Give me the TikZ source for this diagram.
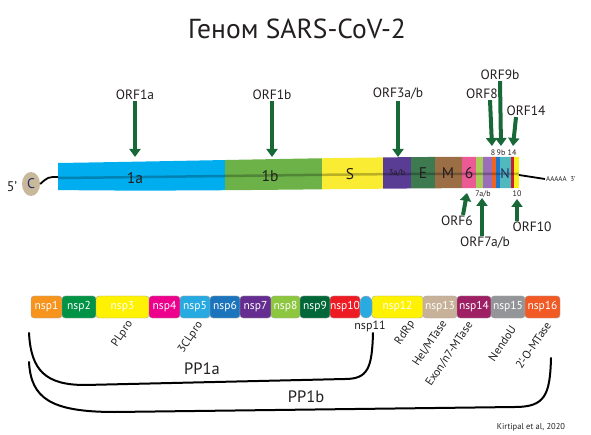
\documentclass[tikz,border=0pt]{standalone}
\usepackage{fontspec}
\setmainfont{PT Sans}
\usetikzlibrary{arrows.meta,shapes.geometric}
\definecolor{orfgreen}{RGB}{24,104,56}
\definecolor{txtdark}{RGB}{35,31,32}
\definecolor{ccap}{RGB}{200,185,155}
\definecolor{cnavy}{RGB}{40,40,100}
% genome segments
\definecolor{c1a}{RGB}{0,174,239}
\definecolor{c1b}{RGB}{108,178,72}
\definecolor{cS}{RGB}{250,236,50}
\definecolor{c3ab}{RGB}{89,60,148}
\definecolor{cE}{RGB}{62,122,80}
\definecolor{cM}{RGB}{155,110,70}
\definecolor{c6}{RGB}{236,90,150}
\definecolor{c7a}{RGB}{170,205,90}
\definecolor{c7b}{RGB}{155,110,185}
\definecolor{c8}{RGB}{240,100,35}
\definecolor{c9b}{RGB}{30,120,200}
\definecolor{cN}{RGB}{80,185,190}
\definecolor{c14}{RGB}{200,30,45}
\definecolor{c10}{RGB}{250,240,30}
% nsp colours
\definecolor{cn1}{RGB}{247,148,29}
\definecolor{cn2}{RGB}{0,146,69}
\definecolor{cn3}{RGB}{255,242,0}
\definecolor{cn4}{RGB}{236,0,140}
\definecolor{cn5}{RGB}{39,170,225}
\definecolor{cn6}{RGB}{28,117,188}
\definecolor{cn7}{RGB}{102,45,145}
\definecolor{cn8}{RGB}{141,198,63}
\definecolor{cn9}{RGB}{0,104,56}
\definecolor{cn10}{RGB}{237,28,36}
\definecolor{cn11}{RGB}{41,171,226}
\definecolor{cn12}{RGB}{255,242,0}
\definecolor{cn13}{RGB}{199,178,153}
\definecolor{cn14}{RGB}{158,31,99}
\definecolor{cn15}{RGB}{147,149,152}
\definecolor{cn16}{RGB}{241,90,36}

\begin{document}
\begin{tikzpicture}[x=1pt,y=-1pt,
  orfarrow/.style={draw=orfgreen, line width=4pt, -{Triangle[width=11pt,length=8pt]}},
  orflbl/.style={font=\fontsize{13.5}{15}\selectfont, text=txtdark, inner sep=1pt},
  seglbl/.style={font=\fontsize{15.5}{17}\selectfont, text=txtdark, inner sep=0pt},
  tinylbl/.style={font=\fontsize{8}{9}\selectfont, text=txtdark, inner sep=0pt},
  nspbox/.style={draw=gray!70, rounded corners=3pt, minimum height=22pt, inner sep=0pt, text=white, font=\fontsize{11.5}{13}\selectfont},
  rotlbl/.style={rotate=56, anchor=east, font=\fontsize{11.5}{13}\selectfont, text=txtdark, inner sep=1pt},
  brace/.style={line width=2pt, line cap=round}]
\useasboundingbox (0,0) rectangle (591,435);

\node[font=\fontsize{27.5}{32}\selectfont, text=txtdark] (title) at (297,29) {Геном SARS-CoV-2};

% genome bar
\begin{scope}
\clip (58,163) .. controls (250,160) and (380,156) .. (519,157) -- (519,188) .. controls (350,188) and (200,192) .. (58,190) -- cycle;
\foreach \xa/\xb/\col in {58/225/c1a, 225/322/c1b, 322/383/cS, 383/411/c3ab, 411/435/cE, 435/462/cM, 462/476/c6, 476/483/c7a, 483/492/c7b, 492/496/c8, 496/500/c9b, 500/511/cN, 511/514/c14, 514/519/c10}
  \fill[\col] (\xa,140) rectangle (\xb,200);
\draw[black, opacity=.25, line width=2.5pt] (58,178) .. controls (250,176) and (400,173) .. (519,174);
\end{scope}

\node[ellipse, fill=ccap, minimum width=18pt, minimum height=24pt, inner sep=0pt, text=cnavy, font=\fontsize{14}{16}\selectfont] (cap) at (31,184) {C};
\node[font=\fontsize{14}{16}\selectfont, text=txtdark] (five) at (12,187) {5’};
\coordinate (bar5) at (58,177);
\coordinate (bar3) at (519,175);
\coordinate (polyA) at (545,179);
\draw[line width=1.8pt] (cap.east) .. controls (48,177) .. (bar5);
\draw[line width=1.8pt] (bar3) -- (polyA);
\node[anchor=west, font=\fontsize{7}{8}\selectfont, text=txtdark, inner sep=1pt] (aaaaa) at (polyA) {AAAAA\ \ 3’};

\node[seglbl] (g1a) at (135,178) {1a};
\node[seglbl] (g1b) at (270,176) {1b};
\node[seglbl] (gS) at (350,174) {S};
\node[tinylbl, font=\fontsize{8.5}{9}\selectfont] (g3ab) at (397,173) {3a/b};
\node[seglbl] (gE) at (423,173) {E};
\node[seglbl] (gM) at (448,173) {M};
\node[seglbl] (g6) at (469,173) {6};
\node[seglbl, text=cnavy, font=\fontsize{14}{15}\selectfont] (gN) at (505,174) {N};
\node[tinylbl] (s8) at (493,153) {8};
\node[tinylbl] (s9b) at (501,153) {9b};
\node[tinylbl] (s14) at (512,153) {14};
\node[tinylbl] (s7ab) at (483,194) {7a/b};
\node[tinylbl] (s10) at (517,194) {10};

% ORF arrows
\node[orflbl] (orf1a) at (135,95) {ORF1a};
\node[orflbl] (orf1b) at (272,95) {ORF1b};
\node[orflbl] (orf3ab) at (398,94) {ORF3a/b};
\node[orflbl] (orf8) at (482,94) {ORF8};
\node[orflbl] (orf9b) at (500,75) {ORF9b};
\node[orflbl] (orf14) at (526,111) {ORF14};
\node[orflbl] (orf6) at (457,221) {ORF6};
\node[orflbl] (orf7ab) at (485,243) {ORF7a/b};
\node[orflbl] (orf10) at (532,227) {ORF10};
\coordinate (t1a) at (135,157);
\coordinate (t1b) at (272,157);
\coordinate (t3ab) at (398,157);
\coordinate (t8) at (492,146);
\coordinate (t9b) at (501,146);
\coordinate (t14) at (513,146);
\coordinate (t6) at (467,193);
\coordinate (t7ab) at (482,198);
\coordinate (t10) at (517,199);
\draw[orfarrow] (orf1a) -- (t1a);
\draw[orfarrow] (orf1b) -- (t1b);
\draw[orfarrow] (orf3ab) -- (t3ab);
\draw[orfarrow] ([xshift=8pt]orf8.south) -- (t8);
\draw[orfarrow] (orf9b.south) -- (t9b);
\draw[orfarrow] ([xshift=-10pt]orf14.south) -- (t14);
\draw[orfarrow] ([xshift=6pt]orf6.north) -- (t6);
\draw[orfarrow] ([xshift=-3pt]orf7ab.north) -- (t7ab);
\draw[orfarrow] ([xshift=-15pt]orf10.north) -- (t10);

% polyprotein
\foreach \n/\xa/\xb/\col in {nsp1/31/62/cn1, nsp2/62/96/cn2, nsp3/96/149/cn3, nsp4/149/180/cn4, nsp5/180/210/cn5, nsp6/210/240/cn6, nsp7/240/271/cn7, nsp8/271/300/cn8, nsp9/300/330/cn9, nsp10/330/360/cn10, nsp12/372/423/cn12, nsp13/423/457/cn13, nsp14/457/491/cn14, nsp15/491/525/cn15, nsp16/525/560/cn16}
  \node[nspbox, fill=\col, minimum width={\xb pt-\xa pt}] (\n) at ({(\xa+\xb)/2},307) {\n};
\node[nspbox, fill=cn11, rounded corners=6pt, minimum width=12pt] (nsp11) at (366,307) {};
\node[font=\fontsize{12}{14}\selectfont, text=txtdark] (nsp11lbl) at (370,326) {nsp11};

\node[rotlbl] (plpro) at (131,321) {PLpro};
\node[rotlbl] (clpro) at (201,322) {3CLpro};
\node[rotlbl] (rdrp) at (413,321) {RdRp};
\node[rotlbl] (hel) at (445,321) {Hel/MTase};
\node[rotlbl] (exon) at (471,322) {Exon/n7-MTase};
\node[rotlbl] (nendo) at (514,326) {NendoU};
\node[rotlbl] (omt) at (549,322) {2’-O-MTase};

% PP1a / PP1b
\draw[brace] (29,333) .. controls (31,370) and (45,385) .. (85,385) -- (345,379) .. controls (368,379) and (372,368) .. (373,333);
\draw[brace] (29,362) .. controls (31,398) and (50,412) .. (115,412) -- (515,407) .. controls (545,407) and (550,395) .. (551,358);
\node[font=\fontsize{16.5}{18}\selectfont, text=txtdark] (pp1a) at (202,369) {PP1a};
\node[font=\fontsize{16.5}{18}\selectfont, text=txtdark] (pp1b) at (306,397) {PP1b};
\node[font=\fontsize{8.5}{10}\selectfont, text=txtdark] (cite) at (531,427) {Kirtipal et al, 2020};
\end{tikzpicture}
\end{document}
